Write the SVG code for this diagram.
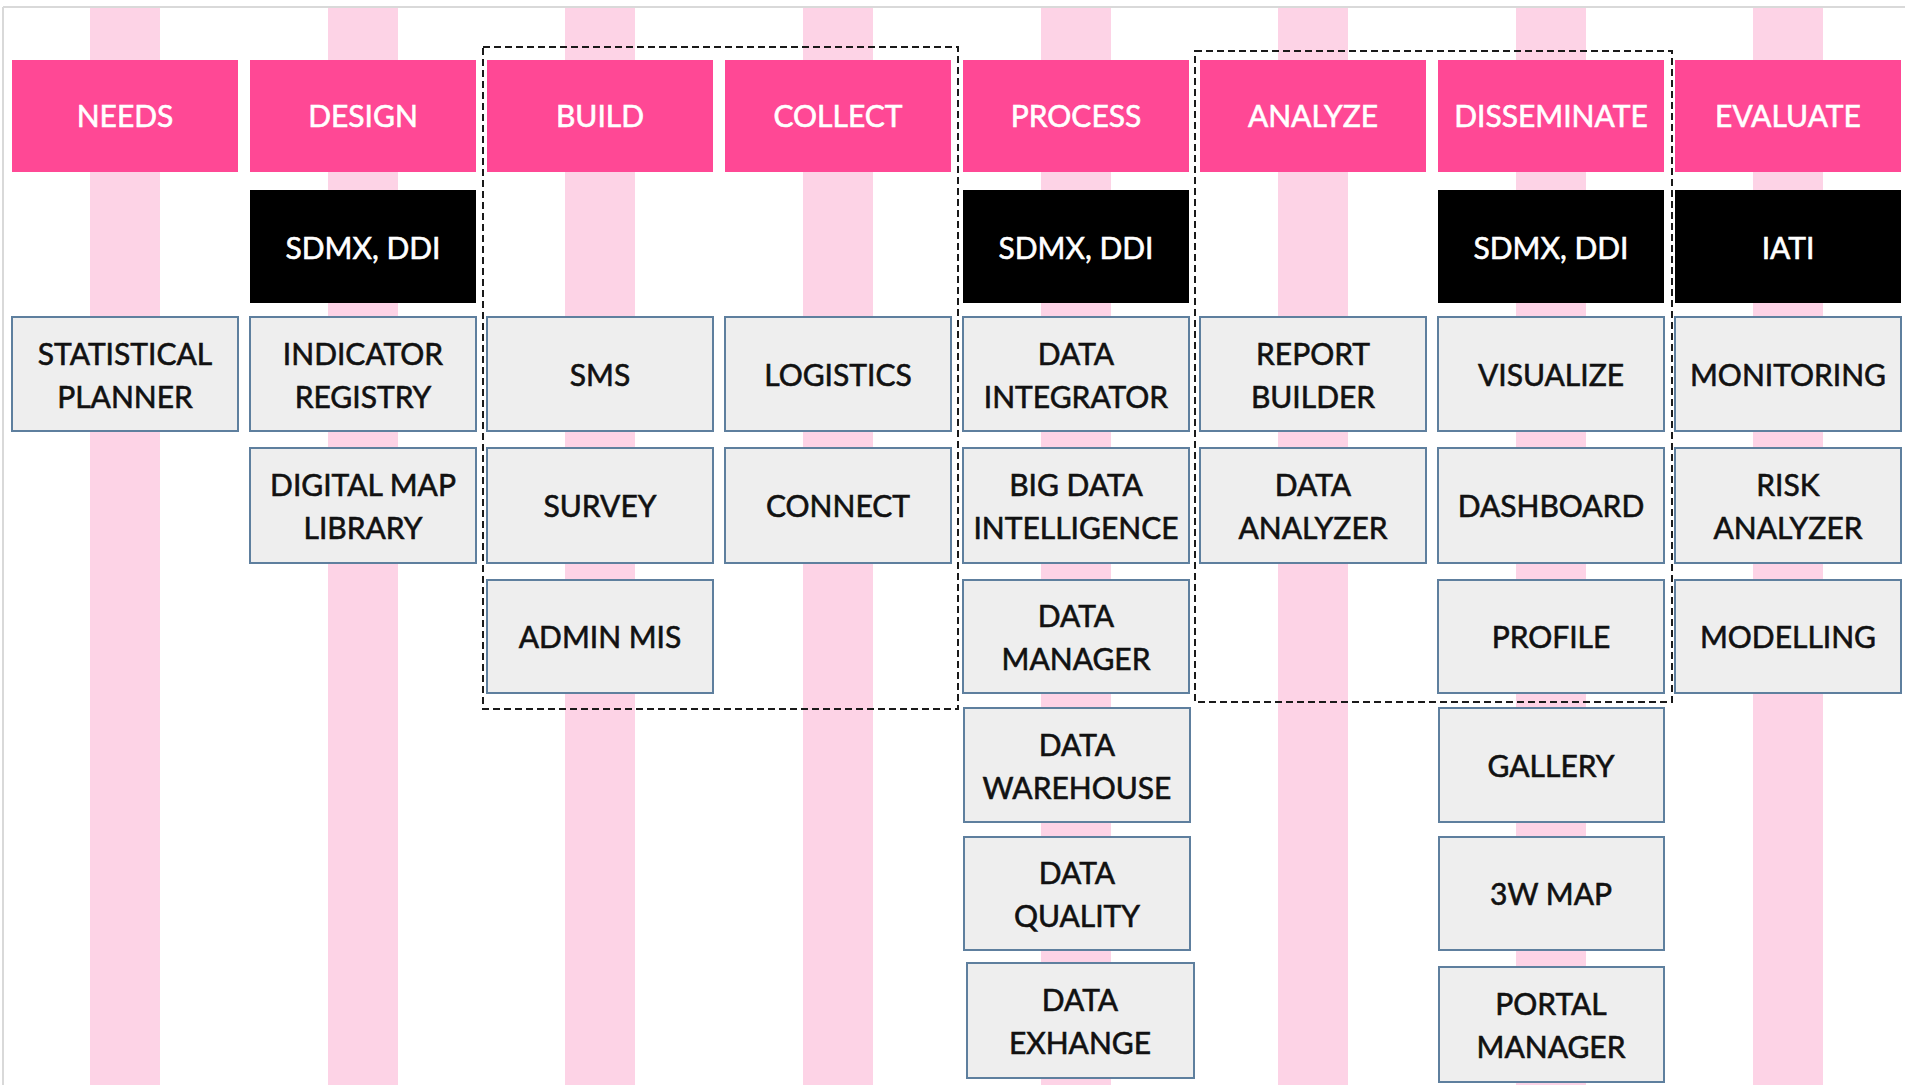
<svg xmlns="http://www.w3.org/2000/svg" width="1905" height="1085" viewBox="0 0 1905 1085">
<style>
  .stripe { fill: #fdd3e6; }
  .hdr { fill: #ff4895; }
  .std { fill: #000000; }
  .box { fill: #eeeeee; stroke: #5e7f9e; stroke-width: 2; }
  .grp { fill: none; stroke: #1a1a1a; stroke-width: 2; stroke-dasharray: 7 4; }
  text { font-family: Lato, "Open Sans", "Liberation Sans", sans-serif; font-size: 30px; text-anchor: middle; stroke-width: 0.6px; }
  .wt { fill: #ffffff; stroke: #ffffff; }
  .bt { fill: #111111; stroke: #111111; }
  .frame { stroke: #d9d9d9; stroke-width: 2; }
</style>
<rect x="0" y="0" width="1905" height="1085" fill="#ffffff"/>
<line class="frame" x1="3" y1="7" x2="1905" y2="7"/>
<line class="frame" x1="3" y1="7" x2="3" y2="1085"/>
<g id="stripes">
  <rect class="stripe" x="90" y="8" width="70" height="1077"/>
  <rect class="stripe" x="328" y="8" width="70" height="1077"/>
  <rect class="stripe" x="565" y="8" width="70" height="1077"/>
  <rect class="stripe" x="803" y="8" width="70" height="1077"/>
  <rect class="stripe" x="1041" y="8" width="70" height="1077"/>
  <rect class="stripe" x="1278" y="8" width="70" height="1077"/>
  <rect class="stripe" x="1516" y="8" width="70" height="1077"/>
  <rect class="stripe" x="1753" y="8" width="70" height="1077"/>
</g>
<g id="connectors"></g>
<g id="headers">
  <g id="h-needs"><rect class="hdr" x="12" y="60" width="226" height="112"/><text class="wt" x="125" y="127">NEEDS</text></g>
  <g id="h-design"><rect class="hdr" x="250" y="60" width="226" height="112"/><text class="wt" x="363" y="127">DESIGN</text></g>
  <g id="h-build"><rect class="hdr" x="487" y="60" width="226" height="112"/><text class="wt" x="600" y="127">BUILD</text></g>
  <g id="h-collect"><rect class="hdr" x="725" y="60" width="226" height="112"/><text class="wt" x="838" y="127">COLLECT</text></g>
  <g id="h-process"><rect class="hdr" x="963" y="60" width="226" height="112"/><text class="wt" x="1076" y="127">PROCESS</text></g>
  <g id="h-analyze"><rect class="hdr" x="1200" y="60" width="226" height="112"/><text class="wt" x="1313" y="127">ANALYZE</text></g>
  <g id="h-disseminate"><rect class="hdr" x="1438" y="60" width="226" height="112"/><text class="wt" x="1551" y="127">DISSEMINATE</text></g>
  <g id="h-evaluate"><rect class="hdr" x="1675" y="60" width="226" height="112"/><text class="wt" x="1788" y="127">EVALUATE</text></g>
</g>
<g id="standards">
  <g id="s-design"><rect class="std" x="250" y="190" width="226" height="113"/><text class="wt" x="363" y="259">SDMX, DDI</text></g>
  <g id="s-process"><rect class="std" x="963" y="190" width="226" height="113"/><text class="wt" x="1076" y="259">SDMX, DDI</text></g>
  <g id="s-disseminate"><rect class="std" x="1438" y="190" width="226" height="113"/><text class="wt" x="1551" y="259">SDMX, DDI</text></g>
  <g id="s-evaluate"><rect class="std" x="1675" y="190" width="226" height="113"/><text class="wt" x="1788" y="259">IATI</text></g>
</g>
<g id="tools">
  <g id="n-statistical-planner"><rect class="box" x="12" y="317" width="226" height="114"/><text class="bt" x="125" y="365">STATISTICAL</text><text class="bt" x="125" y="408">PLANNER</text></g>
  <g id="n-indicator-registry"><rect class="box" x="250" y="317" width="226" height="114"/><text class="bt" x="363" y="365">INDICATOR</text><text class="bt" x="363" y="408">REGISTRY</text></g>
  <g id="n-digital-map-library"><rect class="box" x="250" y="448" width="226" height="115"/><text class="bt" x="363" y="496">DIGITAL MAP</text><text class="bt" x="363" y="539">LIBRARY</text></g>
  <g id="n-sms"><rect class="box" x="487" y="317" width="226" height="114"/><text class="bt" x="600" y="386">SMS</text></g>
  <g id="n-survey"><rect class="box" x="487" y="448" width="226" height="115"/><text class="bt" x="600" y="517">SURVEY</text></g>
  <g id="n-admin-mis"><rect class="box" x="487" y="580" width="226" height="113"/><text class="bt" x="600" y="648">ADMIN MIS</text></g>
  <g id="n-logistics"><rect class="box" x="725" y="317" width="226" height="114"/><text class="bt" x="838" y="386">LOGISTICS</text></g>
  <g id="n-connect"><rect class="box" x="725" y="448" width="226" height="115"/><text class="bt" x="838" y="517">CONNECT</text></g>
  <g id="n-data-integrator"><rect class="box" x="963" y="317" width="226" height="114"/><text class="bt" x="1076" y="365">DATA</text><text class="bt" x="1076" y="408">INTEGRATOR</text></g>
  <g id="n-big-data-intelligence"><rect class="box" x="963" y="448" width="226" height="115"/><text class="bt" x="1076" y="496">BIG DATA</text><text class="bt" x="1076" y="539">INTELLIGENCE</text></g>
  <g id="n-data-manager"><rect class="box" x="963" y="580" width="226" height="113"/><text class="bt" x="1076" y="627">DATA</text><text class="bt" x="1076" y="670">MANAGER</text></g>
  <g id="n-data-warehouse"><rect class="box" x="964" y="708" width="226" height="114"/><text class="bt" x="1077" y="756">DATA</text><text class="bt" x="1077" y="799">WAREHOUSE</text></g>
  <g id="n-data-quality"><rect class="box" x="964" y="837" width="226" height="113"/><text class="bt" x="1077" y="884">DATA</text><text class="bt" x="1077" y="927">QUALITY</text></g>
  <g id="n-data-exhange"><rect class="box" x="967" y="963" width="227" height="115"/><text class="bt" x="1080" y="1011">DATA</text><text class="bt" x="1080" y="1054">EXHANGE</text></g>
  <g id="n-report-builder"><rect class="box" x="1200" y="317" width="226" height="114"/><text class="bt" x="1313" y="365">REPORT</text><text class="bt" x="1313" y="408">BUILDER</text></g>
  <g id="n-data-analyzer"><rect class="box" x="1200" y="448" width="226" height="115"/><text class="bt" x="1313" y="496">DATA</text><text class="bt" x="1313" y="539">ANALYZER</text></g>
  <g id="n-visualize"><rect class="box" x="1438" y="317" width="226" height="114"/><text class="bt" x="1551" y="386">VISUALIZE</text></g>
  <g id="n-dashboard"><rect class="box" x="1438" y="448" width="226" height="115"/><text class="bt" x="1551" y="517">DASHBOARD</text></g>
  <g id="n-profile"><rect class="box" x="1438" y="580" width="226" height="113"/><text class="bt" x="1551" y="648">PROFILE</text></g>
  <g id="n-gallery"><rect class="box" x="1439" y="708" width="225" height="114"/><text class="bt" x="1551" y="777">GALLERY</text></g>
  <g id="n-3w-map"><rect class="box" x="1439" y="837" width="225" height="113"/><text class="bt" x="1551" y="905">3W MAP</text></g>
  <g id="n-portal-manager"><rect class="box" x="1439" y="967" width="225" height="115"/><text class="bt" x="1551" y="1015">PORTAL</text><text class="bt" x="1551" y="1058">MANAGER</text></g>
  <g id="n-monitoring"><rect class="box" x="1675" y="317" width="226" height="114"/><text class="bt" x="1788" y="386">MONITORING</text></g>
  <g id="n-risk-analyzer"><rect class="box" x="1675" y="448" width="226" height="115"/><text class="bt" x="1788" y="496">RISK</text><text class="bt" x="1788" y="539">ANALYZER</text></g>
  <g id="n-modelling"><rect class="box" x="1675" y="580" width="226" height="113"/><text class="bt" x="1788" y="648">MODELLING</text></g>
</g>
<g id="groups">
  <rect id="g-build-collect" class="grp" x="483" y="47" width="475" height="662"/>
  <rect id="g-analyze-disseminate" class="grp" x="1195" y="51" width="477" height="651"/>
</g>
</svg>
